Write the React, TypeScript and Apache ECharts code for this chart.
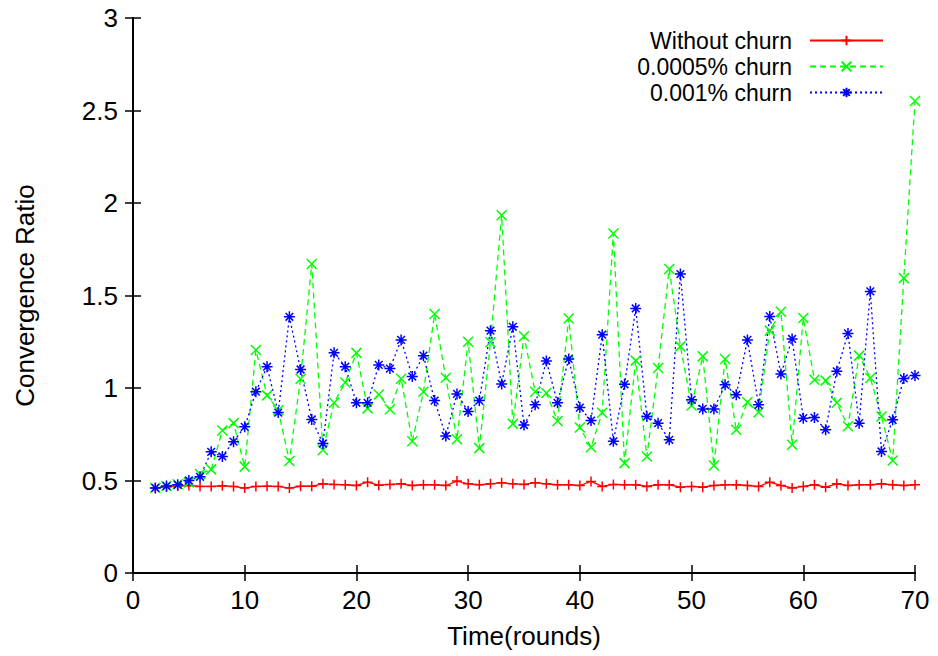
import React, { useEffect, useRef } from "react";
import * as echarts from "echarts";

const rounds = [2, 3, 4, 5, 6, 7, 8, 9, 10, 11, 12, 13, 14, 15, 16, 17, 18, 19, 20, 21, 22, 23, 24, 25, 26, 27, 28, 29, 30, 31, 32, 33, 34, 35, 36, 37, 38, 39, 40, 41, 42, 43, 44, 45, 46, 47, 48, 49, 50, 51, 52, 53, 54, 55, 56, 57, 58, 59, 60, 61, 62, 63, 64, 65, 66, 67, 68, 69, 70];

const withoutChurn = [0.46, 0.465, 0.47, 0.473, 0.468, 0.468, 0.471, 0.468, 0.459, 0.468, 0.469, 0.468, 0.459, 0.469, 0.469, 0.482, 0.479, 0.477, 0.473, 0.491, 0.475, 0.479, 0.482, 0.473, 0.477, 0.477, 0.473, 0.497, 0.482, 0.477, 0.482, 0.488, 0.482, 0.479, 0.488, 0.482, 0.477, 0.477, 0.473, 0.495, 0.468, 0.479, 0.477, 0.477, 0.468, 0.477, 0.477, 0.464, 0.468, 0.464, 0.473, 0.477, 0.477, 0.473, 0.468, 0.491, 0.473, 0.46, 0.468, 0.477, 0.464, 0.482, 0.473, 0.477, 0.477, 0.482, 0.477, 0.473, 0.477];

const churn0005 = [0.46, 0.47, 0.48, 0.49, 0.535, 0.56, 0.77, 0.81, 0.575, 1.205, 0.96, 0.88, 0.605, 1.05, 1.67, 0.665, 0.92, 1.03, 1.19, 0.89, 0.965, 0.885, 1.05, 0.712, 0.98, 1.4, 1.055, 0.723, 1.25, 0.675, 1.247, 1.934, 0.806, 1.28, 0.98, 0.973, 0.822, 1.376, 0.786, 0.68, 0.866, 1.835, 0.594, 1.148, 0.63, 1.108, 1.643, 1.225, 0.905, 1.171, 0.581, 1.157, 0.774, 0.923, 0.869, 1.31, 1.412, 0.693, 1.378, 1.045, 1.04, 0.92, 0.793, 1.175, 1.054, 0.846, 0.608, 1.594, 2.551];

const churn001 = [0.46, 0.47, 0.477, 0.5, 0.52, 0.655, 0.63, 0.71, 0.79, 0.98, 1.115, 0.867, 1.385, 1.1, 0.83, 0.7, 1.19, 1.115, 0.92, 0.92, 1.125, 1.105, 1.26, 1.062, 1.175, 0.932, 0.741, 0.968, 0.873, 0.932, 1.31, 1.022, 1.331, 0.8, 0.909, 1.146, 0.92, 1.157, 0.894, 0.824, 1.288, 0.712, 1.02, 1.43, 0.846, 0.81, 0.72, 1.616, 0.936, 0.887, 0.887, 1.017, 0.963, 1.26, 0.909, 1.387, 1.076, 1.265, 0.837, 0.84, 0.775, 1.09, 1.295, 0.81, 1.522, 0.657, 0.828, 1.052, 1.067];

const seriesNames = ["Without churn", "0.0005% churn", "0.001% churn"];
const xTicks = { min: 0, max: 70, interval: 10 };
const yTicks = { min: 0, max: 3, interval: 0.5 };

const PLUS = "path://M5,0L5,10M0,5L10,5";
const CROSS = "path://M0,0L10,10M10,0L0,10";
const STAR = "path://M5,0L5,10M0,5L10,5M1.5,1.5L8.5,8.5M8.5,1.5L1.5,8.5";

const FONT = "Liberation Sans";
const FS = 26;
const LEGEND_FS = 23;

export default function App() {
  const ref = useRef<HTMLDivElement>(null);
  useEffect(() => {
    if (!ref.current) return;
    const chart = echarts.init(ref.current, null, { renderer: "svg" });
    const pairs = (ys: number[]) => rounds.map((x, i) => [x, ys[i]]);
    const axisLine = { show: true, lineStyle: { color: "#000", width: 2 } };
    const tick = { show: true, inside: true, length: 8, lineStyle: { color: "#000", width: 1.5 } };
    const mk = (name: string, data: number[], color: string, type: any, symbol: string, size: number) => ({
      name,
      type: "line",
      data: pairs(data),
      symbol,
      symbolSize: size,
      showSymbol: true,
      lineStyle: { color, width: 1.3, type },
      itemStyle: { color, borderColor: color, borderWidth: 1.5 },
      emphasis: { disabled: true },
    });
    const legend = (name: string, top: number) => ({
      data: [name],
      right: 54,
      top,
      orient: "vertical",
      align: "right",
      padding: 0,
      itemWidth: 73,
      itemHeight: 12,
      selectedMode: false,
      textStyle: { fontFamily: FONT, fontSize: LEGEND_FS, lineHeight: 23, color: "#000", padding: [0, 13, 0, 0] },
    });
    chart.setOption({
      animation: false,
      backgroundColor: "#fff",
      textStyle: { fontFamily: FONT },
      grid: { left: 133, right: 23, top: 18, bottom: 83, containLabel: false },
      legend: [legend(seriesNames[0], 29), legend(seriesNames[1], 55), legend(seriesNames[2], 81)],
      xAxis: [
        {
          type: "value",
          ...xTicks,
          position: "bottom",
          name: "Time(rounds)",
          nameLocation: "middle",
          nameGap: 50,
          nameTextStyle: { fontFamily: FONT, fontSize: FS, color: "#000" },
          axisLine,
          axisTick: tick,
          splitLine: { show: false },
          axisLabel: { fontFamily: FONT, fontSize: FS, color: "#000", margin: 14 },
        },
        {
          type: "value",
          ...xTicks,
          position: "top",
          axisLine,
          axisTick: tick,
          splitLine: { show: false },
          axisLabel: { show: false },
        },
      ],
      yAxis: [
        {
          type: "value",
          ...yTicks,
          position: "left",
          name: "Convergence Ratio",
          nameLocation: "middle",
          nameGap: 95,
          nameTextStyle: { fontFamily: FONT, fontSize: FS, color: "#000" },
          axisLine,
          axisTick: tick,
          splitLine: { show: false },
          axisLabel: { fontFamily: FONT, fontSize: FS, color: "#000", margin: 15 },
        },
        {
          type: "value",
          ...yTicks,
          position: "right",
          axisLine,
          axisTick: tick,
          splitLine: { show: false },
          axisLabel: { show: false },
        },
      ],
      series: [
        mk(seriesNames[0], withoutChurn, "#ff0000", "solid", PLUS, 10),
        mk(seriesNames[1], churn0005, "#00ff00", [6, 4], CROSS, 10),
        mk(seriesNames[2], churn001, "#0000ff", [2, 3], STAR, 11),
      ],
    });
    return () => chart.dispose();
  }, []);
  return <div ref={ref} style={{ position: "fixed", left: 0, top: 0, width: 938, height: 656 }} />;
}
